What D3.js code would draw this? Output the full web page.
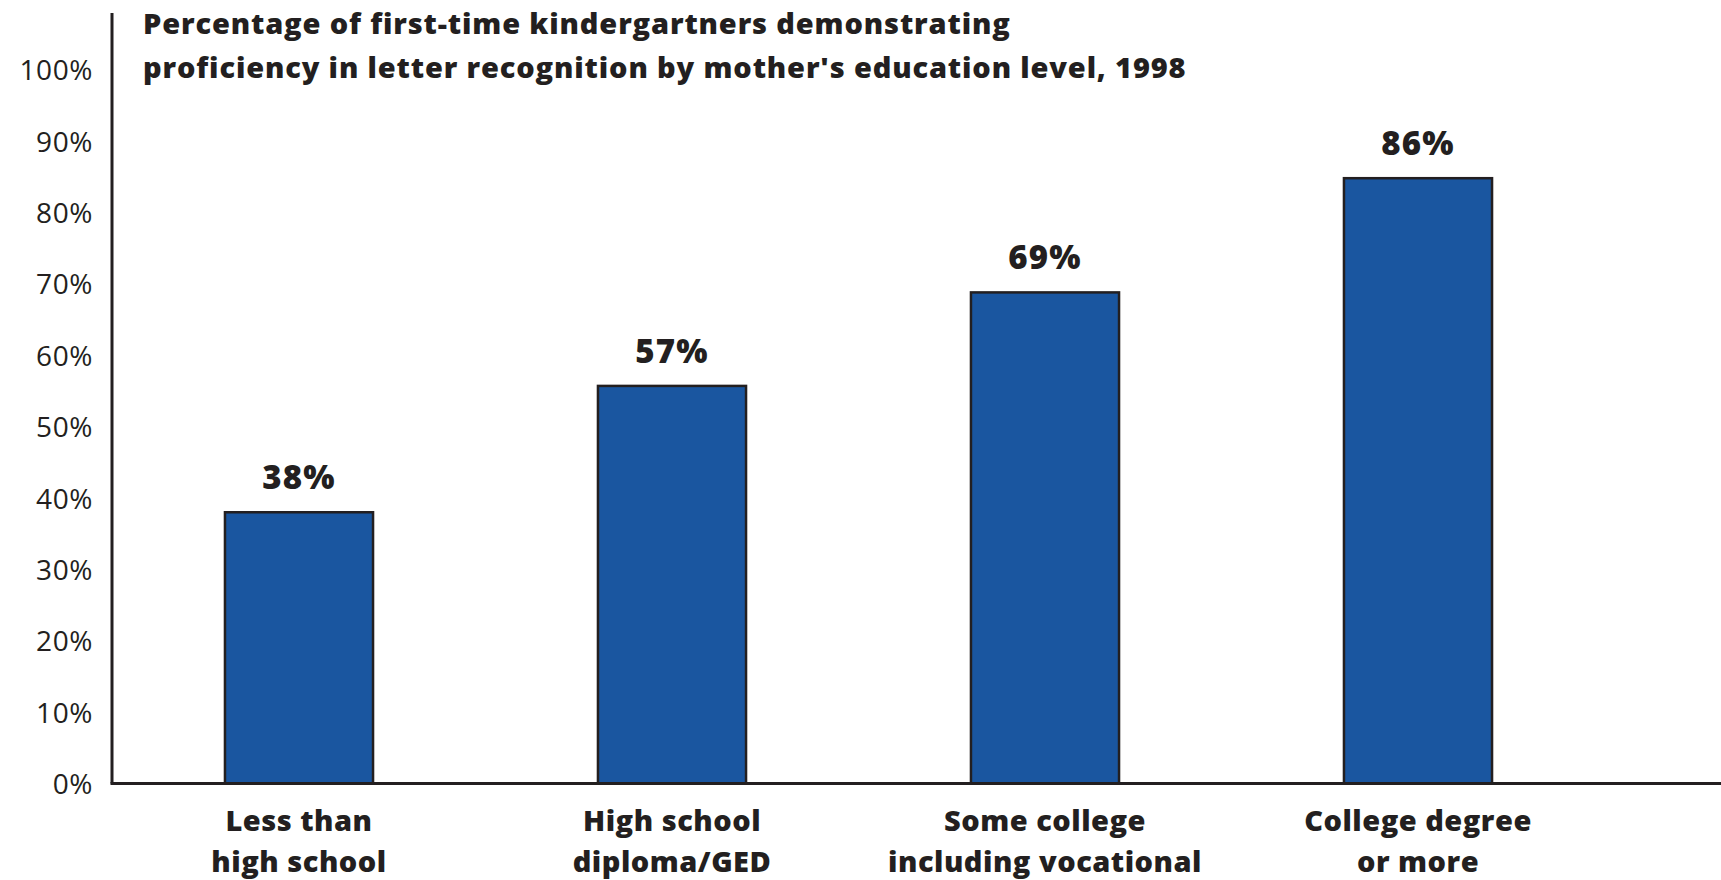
<!DOCTYPE html>
<html>
  <head>
    <meta charset="utf-8">
    <title>Letter recognition by mother's education level</title>
    <style>
      html, body {
        margin: 0;
        padding: 0;
        background: #fff;
      }

      svg {
        display: block;
      }

      text {
        fill: #231f20;
        font-family: "Open Sans", Lato, sans-serif;
      }

      .title, .valueLabel, .catLabel {
        font-weight: 800;
      }

      .bar {
        fill: #1a56a0;
        stroke: #231f20;
        stroke-width: 2.5px;
      }

      .axisLine {
        stroke: #231f20;
        stroke-width: 3px;
      }
    </style>
  </head>
  <body>
    <svg width="1721" height="880"></svg>
    <script src="https://cdn.jsdelivr.net/npm/d3@7"></script>
    <script>
      // data
      var categories = [
        [ 'Less than', 'high school' ],
        [ 'High school', 'diploma/GED' ],
        [ 'Some college', 'including vocational' ],
        [ 'College degree', 'or more' ]
      ];
      var barValues = [ 38, 55.7, 68.8, 84.8 ]; // bar heights as drawn
      var valueLabels = [ '38%', '57%', '69%', '86%' ]; // printed above the bars
      var yTicks = [ 0, 10, 20, 30, 40, 50, 60, 70, 80, 90, 100 ];
      var titleLines = [
        'Percentage of first-time kindergartners demonstrating',
        'proficiency in letter recognition by mother\'s education level, 1998'
      ];

      var width = 1721, height = 880;
      var axisX = 112;     // y axis position
      var baseline = 783.5; // x axis position
      var axisTop = 13;

      var svg = d3.select( 'svg' );

      var yScale = d3.scaleLinear().domain( [ 0, 100 ] ).range( [ baseline, 69.7 ] );
      var xScale = d3.scaleBand()
        .domain( d3.range( categories.length ) )
        .range( [ 112.5, 1604.5 ] )
        .paddingInner( 0.603 )
        .paddingOuter( 0.3015 );

      // bars
      svg.append( 'g' )
        .selectAll( 'rect' )
        .data( barValues )
        .join( 'rect' )
          .classed( 'bar', true )
          .attr( 'x', function( d, i ) { return xScale( i ); } )
          .attr( 'y', function( d ) { return yScale( d ); } )
          .attr( 'width', xScale.bandwidth() )
          .attr( 'height', function( d ) { return baseline - yScale( d ); } );

      // value labels
      svg.append( 'g' )
        .selectAll( 'text' )
        .data( barValues )
        .join( 'text' )
          .classed( 'valueLabel', true )
          .attr( 'x', function( d, i ) { return xScale( i ) + xScale.bandwidth() / 2; } )
          .attr( 'y', function( d ) { return yScale( d ) - 23; } )
          .attr( 'text-anchor', 'middle' )
          .style( 'font-size', '33px' )
          .style( 'letter-spacing', '1.2px' )
          .text( function( d, i ) { return valueLabels[i]; } );

      // y axis
      var yAxis = d3.axisLeft( yScale )
        .tickValues( yTicks )
        .tickSize( 0 )
        .tickPadding( 0 )
        .tickFormat( function( d ) { return d + '%'; } );

      var yAxisG = svg.append( 'g' )
        .attr( 'transform', 'translate( ' + ( axisX - 19 ) + ', 0 )' )
        .call( yAxis );
      yAxisG.select( '.domain' ).remove();
      yAxisG.selectAll( 'text' )
        .attr( 'x', 0 )
        .attr( 'dy', '0.36em' )
        .style( 'font-size', '28px' )
        .style( 'letter-spacing', '0.6px' )
        .style( 'font-family', '"Open Sans", sans-serif' )
        .attr( 'fill', '#231f20' );

      svg.append( 'line' )
        .classed( 'axisLine', true )
        .attr( 'x1', axisX )
        .attr( 'x2', axisX )
        .attr( 'y1', axisTop )
        .attr( 'y2', baseline );

      svg.append( 'line' )
        .classed( 'axisLine', true )
        .attr( 'x1', axisX - 1.5 )
        .attr( 'x2', width )
        .attr( 'y1', baseline )
        .attr( 'y2', baseline );

      // category labels, two lines each
      var cats = svg.append( 'g' )
        .selectAll( 'text' )
        .data( categories )
        .join( 'text' )
          .classed( 'catLabel', true )
          .attr( 'text-anchor', 'middle' )
          .style( 'font-size', '29px' )
          .style( 'letter-spacing', '0.5px' )
          .attr( 'transform', function( d, i ) {
            return 'translate( ' + ( xScale( i ) + xScale.bandwidth() / 2 ) + ', 831 )';
          } );
      cats.selectAll( 'tspan' )
        .data( function( d ) { return d; } )
        .join( 'tspan' )
          .attr( 'x', 0 )
          .attr( 'y', function( d, i ) { return i * 41; } )
          .text( function( d ) { return d; } );

      // title
      svg.append( 'g' )
        .selectAll( 'text' )
        .data( titleLines )
        .join( 'text' )
          .classed( 'title', true )
          .attr( 'x', 143 )
          .attr( 'y', function( d, i ) { return 34 + i * 44; } )
          .style( 'font-size', '29px' )
          .style( 'letter-spacing', '0.85px' )
          .text( function( d ) { return d; } );
    </script>
  </body>
</html>
